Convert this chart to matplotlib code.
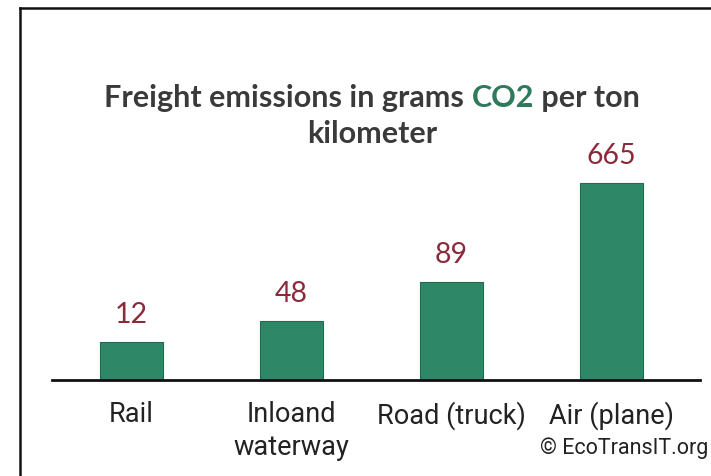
import matplotlib
matplotlib.use("Agg")
import matplotlib.pyplot as plt
from matplotlib.lines import Line2D

categories = ["Rail", "Inloand\nwaterway", "Road (truck)", "Air (plane)"]
emissions = [12, 48, 89, 665]            # value labels (g CO2 per ton-km)
bar_lengths = [38, 59, 98, 197]          # drawn bar lengths as in the source (not to scale)

W, H = 711, 476
fig = plt.figure(figsize=(W / 100, H / 100), dpi=100)
fig.patch.set_facecolor("white")

def fx(px):
    return px / W

def fy(py):
    return 1 - py / H

# frame lines (top and left)
fig.add_artist(Line2D([fx(20), fx(20)], [fy(8), fy(476)], color="#111111", lw=1.8))
fig.add_artist(Line2D([fx(20), fx(711)], [fy(8), fy(8)], color="#111111", lw=1.8))

# axes
left_px, right_px, base_px, top_px = 52, 700, 380, 100
ax = fig.add_axes([fx(left_px), fy(base_px), fx(right_px - left_px), (base_px - top_px) / H])
ax.set_facecolor("none")
x = list(range(len(categories)))
bars = ax.bar(x, bar_lengths, width=0.39, color="#2e8868", edgecolor="#1f6b50", linewidth=0.8)
ax.set_xlim(-0.497, 3.553)
ax.set_ylim(0, base_px - top_px)
for s in ["top", "right", "left"]:
    ax.spines[s].set_visible(False)
ax.spines["bottom"].set_linewidth(2)
ax.spines["bottom"].set_color("#111111")
ax.set_yticks([])
ax.set_xticks(x)
ax.set_xticklabels(categories, fontsize=19.5, color="#222222",
                   family=["Roboto", "DejaVu Sans"], linespacing=1.3)
ax.tick_params(axis="x", length=0, pad=15)

for xi, h, v in zip(x, bar_lengths, emissions):
    ax.annotate(str(v), (xi, h), xytext=(0, 10), textcoords="offset points",
                ha="center", va="bottom", fontsize=20.5, color="#8b2a3a", family="Lato")

# title with coloured "CO2"
fig.canvas.draw()
renderer = fig.canvas.get_renderer()
parts = [("Freight emissions in grams ", "#3a3a3a"), ("CO2", "#2e7a5a"), (" per ton", "#3a3a3a")]
tprops = dict(fontsize=22, fontweight="bold", family="Lato")
texts = []
for s, c in parts:
    t = fig.text(0, fy(98), s, color=c, va="center", ha="left", **tprops)
    texts.append(t)
widths = [t.get_window_extent(renderer).width for t in texts]
total = sum(widths)
cx = 372
start = cx - total / 2
for t, w in zip(texts, widths):
    t.set_x(fx(start))
    start += w
fig.text(fx(cx), fy(134), "kilometer", color="#3a3a3a", va="center", ha="center", **tprops)

fig.text(fx(708), fy(448), "\u00a9 EcoTransIT.org", fontsize=15.5, color="#222222",
         ha="right", va="center", family=["Roboto", "DejaVu Sans"])

fig.savefig("out.png", dpi=100)
